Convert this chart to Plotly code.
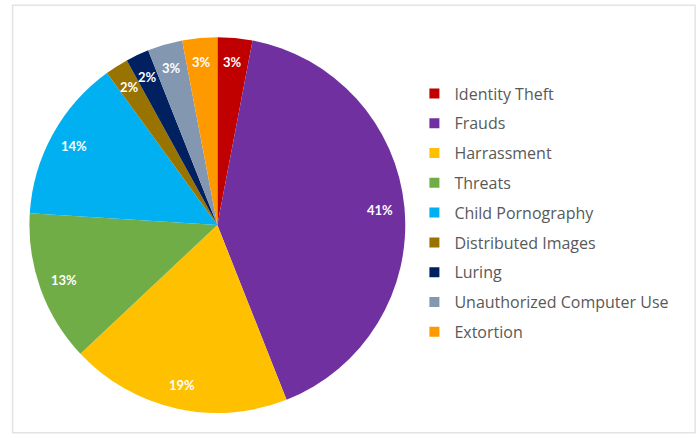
import math
import plotly.graph_objects as go

categories = ["Identity Theft", "Frauds", "Harrassment", "Threats", "Child Pornography",
              "Distributed Images", "Luring", "Unauthorized Computer Use", "Extortion"]
values = [3, 41, 19, 13, 14, 2, 2, 3, 3]
colors = ["#C00000", "#7030A0", "#FFC000", "#70AD47", "#00B0F0",
          "#997300", "#002060", "#8497B0", "#FF9900"]

W, H = 700, 437
dom_x = [0.039, 0.582]
dom_y = [0.055, 0.915]

fig = go.Figure()
fig.add_trace(go.Pie(
    labels=categories, values=values, sort=False, direction="clockwise", rotation=0,
    marker=dict(colors=colors, line=dict(width=0)),
    textinfo="none", hoverinfo="label+percent", showlegend=False,
    domain=dict(x=dom_x, y=dom_y),
))

# legend entries (one group each, for Excel-like spacing)
for lab, col in zip(categories, colors):
    fig.add_trace(go.Scatter(
        x=[None], y=[None], mode="markers", name=lab, legendgroup=lab,
        marker=dict(symbol="square", size=10, color=col), hoverinfo="skip",
    ))

# percentage labels placed at a fixed fraction of the radius along each slice mid-angle
cx = (dom_x[0] + dom_x[1]) / 2 * W
cy = (dom_y[0] + dom_y[1]) / 2 * H
R = min((dom_x[1] - dom_x[0]) * W, (dom_y[1] - dom_y[0]) * H) / 2
total = sum(values)
cum = 0
annotations = []
for v in values:
    mid = (cum + v / 2) / total * 2 * math.pi
    cum += v
    k = 0.87
    px = cx + R * k * math.sin(mid)
    py = cy + R * k * math.cos(mid)
    annotations.append(dict(
        x=px / W, y=py / H, xref="paper", yref="paper", showarrow=False,
        xanchor="center", yanchor="middle",
        text="<b>%d%%</b>" % round(v / total * 100),
        font=dict(family="Lato, Open Sans, sans-serif", size=13, color="white"),
    ))

fig.update_layout(
    width=W, height=H, margin=dict(l=0, r=0, t=0, b=0),
    paper_bgcolor="#ffffff", plot_bgcolor="rgba(0,0,0,0)",
    xaxis=dict(visible=False), yaxis=dict(visible=False),
    annotations=annotations,
    legend=dict(
        x=0.592, y=0.825, xanchor="left", yanchor="top",
        font=dict(family="Open Sans, sans-serif", size=16, color="#595959"),
        tracegroupgap=6, bgcolor="rgba(0,0,0,0)",
    ),
    shapes=[dict(type="rect", xref="paper", yref="paper", x0=0.018, x1=0.993, y0=0.01, y1=0.988,
                 line=dict(color="#e3e3e3", width=1.5), fillcolor="rgba(0,0,0,0)", layer="below")],
)

fig.write_html("out.html")
